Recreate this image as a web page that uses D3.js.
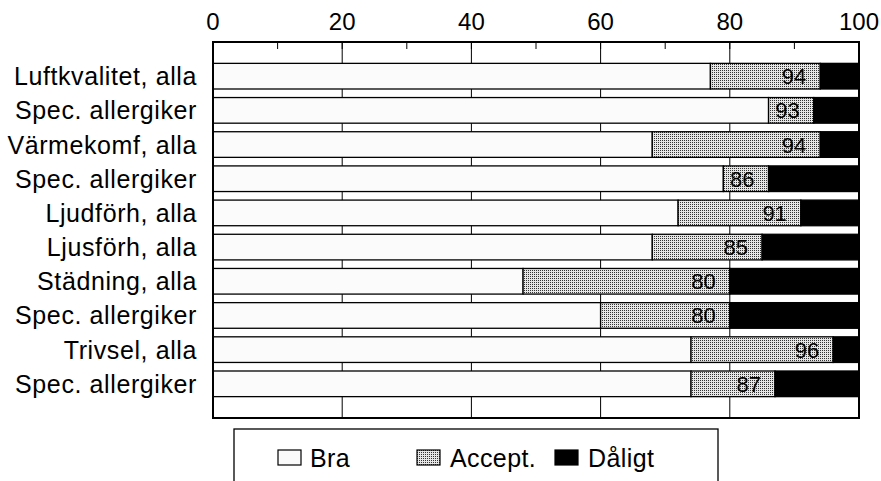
<!DOCTYPE html>
<html>
<head>
<meta charset="utf-8">
<script src="https://cdn.jsdelivr.net/npm/d3@7"></script>
<style>
  body { margin: 0; background: #fff; }
  text { font-family: "Liberation Sans", Arial, sans-serif; fill: #000; }
</style>
</head>
<body>
<div id="chart"></div>
<script>
// data (percent per category)
const categories = [
    "Luftkvalitet, alla", "Spec. allergiker", "Värmekomf, alla", "Spec. allergiker",
    "Ljudförh, alla", "Ljusförh, alla", "Städning, alla", "Spec. allergiker",
    "Trivsel, alla", "Spec. allergiker"
];
const bra    = [77, 86, 68, 79, 72, 68, 48, 60, 74, 74];
const accept = [17,  7, 26,  7, 19, 17, 32, 20, 22, 13];
const daligt = [ 6,  7,  6, 14,  9, 15, 20, 20,  4, 13];
const seriesNames = ["Bra", "Accept.", "Dåligt"];
const xTicks = [0, 20, 40, 60, 80, 100];
const xMinorTicks = [10, 20, 30, 40, 50, 60, 70, 80, 90];

const width = 881, height = 481;
const margin = {top: 42, right: 22, bottom: 63, left: 213};

const svg = d3.select("#chart").append("svg")
    .attr("width", width)
    .attr("height", height);

const defs = svg.append("defs");
const pat = defs.append("pattern")
    .attr("id", "dots")
    .attr("patternUnits", "userSpaceOnUse")
    .attr("width", 2).attr("height", 2);
pat.append("rect").attr("width", 2).attr("height", 2).attr("fill", "#e6e6e6");
pat.append("rect").attr("width", 1).attr("height", 1).attr("fill", "#333");

const fills = {"Bra": "#fbfbfb", "Accept.": "url(#dots)", "Dåligt": "#000"};

const x = d3.scaleLinear()
    .domain([0, 100])
    .range([margin.left, width - margin.right]);

const y = d3.scaleBand()
    .domain(d3.range(categories.length))
    .range([margin.top, height - margin.bottom])
    .paddingInner(0.25)
    .paddingOuter(0.625);

const rows = categories.map(function (c, i) {
    return {i: i, "Bra": bra[i], "Accept.": accept[i], "Dåligt": daligt[i]};
});
const stacked = d3.stack().keys(seriesNames)(rows);

// gridlines
svg.append("g")
    .selectAll("line")
    .data(xTicks.slice(1, -1))
    .enter().append("line")
    .attr("x1", d => x(d)).attr("x2", d => x(d))
    .attr("y1", margin.top).attr("y2", height - margin.bottom)
    .attr("stroke", "#000").attr("stroke-width", 1);

// minor ticks at top, pointing inward
svg.append("g")
    .selectAll("line")
    .data(xMinorTicks)
    .enter().append("line")
    .attr("x1", d => x(d)).attr("x2", d => x(d))
    .attr("y1", margin.top).attr("y2", margin.top + 7)
    .attr("stroke", "#000").attr("stroke-width", 1);

// bars
svg.append("g")
    .selectAll("g")
    .data(stacked)
    .enter().append("g")
    .attr("fill", d => fills[d.key])
    .selectAll("rect")
    .data(d => d)
    .enter().append("rect")
    .attr("x", d => x(d[0]))
    .attr("y", d => y(d.data.i))
    .attr("width", d => x(d[1]) - x(d[0]))
    .attr("height", y.bandwidth())
    .attr("stroke", "#000")
    .attr("stroke-width", 1.3);

// value labels (Bra + Accept.)
svg.append("g")
    .selectAll("text")
    .data(rows)
    .enter().append("text")
    .attr("x", d => x(d["Bra"] + d["Accept."]) - 14)
    .attr("y", d => y(d.i) + y.bandwidth() / 2 + 8)
    .attr("text-anchor", "end")
    .style("font-size", "22px")
    .text(d => d["Bra"] + d["Accept."]);

// frame
svg.append("rect")
    .attr("x", x(0)).attr("y", margin.top)
    .attr("width", x(100) - x(0))
    .attr("height", height - margin.bottom - margin.top)
    .attr("fill", "none")
    .attr("stroke", "#000")
    .attr("stroke-width", 2);

// top axis labels
svg.append("g")
    .selectAll("text")
    .data(xTicks)
    .enter().append("text")
    .attr("x", d => x(d))
    .attr("y", 30)
    .attr("text-anchor", "middle")
    .style("font-size", "24px")
    .text(d => d);

// category labels
svg.append("g")
    .selectAll("text")
    .data(categories)
    .enter().append("text")
    .attr("x", 197)
    .attr("y", (d, i) => y(i) + y.bandwidth() / 2 + 9)
    .attr("text-anchor", "end")
    .style("font-size", "25px")
    .style("letter-spacing", "0.6px")
    .text(d => d);

// legend
const legend = svg.append("g");
legend.append("rect")
    .attr("x", 234).attr("y", 429)
    .attr("width", 484).attr("height", 80)
    .attr("fill", "none")
    .attr("stroke", "#000")
    .attr("stroke-width", 1.3);

const legendX = [278, 417, 555];
const item = legend.selectAll(".item")
    .data(seriesNames)
    .enter().append("g")
    .attr("class", "item")
    .attr("transform", (d, i) => "translate(" + legendX[i] + ",450)");

item.append("rect")
    .attr("width", 23).attr("height", 15)
    .attr("fill", d => fills[d])
    .attr("stroke", "#000")
    .attr("stroke-width", 1.2);

item.append("text")
    .attr("x", d => d === "Bra" ? 32 : 33)
    .attr("y", 16.5)
    .style("font-size", "25px")
    .style("letter-spacing", "0.4px")
    .text(d => d);
</script>
</body>
</html>
